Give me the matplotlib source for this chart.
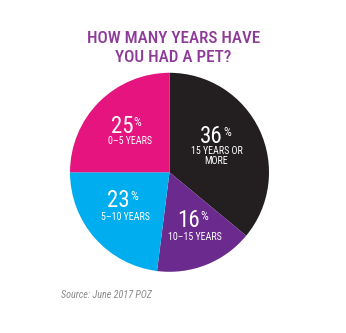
import matplotlib
matplotlib.use("Agg")
import matplotlib.pyplot as plt

labels = ["15 YEARS OR\nMORE", "10–15 YEARS", "5–10 YEARS", "0–5 YEARS"]
values = [36, 16, 23, 25]
colors = ["#231F20", "#6B2A8E", "#00AEEF", "#E5147F"]
title = "HOW MANY YEARS HAVE\nYOU HAD A PET?"
source = "Source: June 2017 POZ"

fam = ["Roboto Condensed", "DejaVu Sans"]

W, H = 346, 333
fig = plt.figure(figsize=(W / 100, H / 100), dpi=100)
ax = fig.add_axes([0, 0, 1, 1])

cx, cy, R = 169.5, H - 172.3, 99.5
ax.pie(values, colors=colors, startangle=90, counterclock=False,
       center=(cx, cy), radius=R, frame=True,
       wedgeprops=dict(linewidth=0))
ax.set_xlim(0, W)
ax.set_ylim(0, H)
ax.set_aspect("equal")
ax.axis("off")

# title, line by line (baselines in px from top)
for line, base in zip(title.split("\n"), [43.3, 61.5]):
    ax.text(W / 2 + 0.5, H - base, line, ha="center", va="baseline",
            fontsize=12.3, color="#8E3A98", family=fam, fontweight="medium")

# layout: (number right edge x, number baseline y, sublabel center x, sublabel baseline y)
layout = [(223, 143, 216.5, 154.5), (200, 227, 194.5, 240.5),
          (130, 207, 125.5, 219.5), (133, 133, 130.5, 143.5)]
for lab, v, (xr, yb, xs, ys) in zip(labels, values, layout):
    ax.text(xr, H - yb, f"{v}", ha="right", va="baseline", fontsize=16.5,
            color="white", family=fam)
    ax.text(xr + 0.5, H - (yb - 15.5 + 8), "%", ha="left", va="baseline",
            fontsize=9, color="white", family=fam)
    for i, sub in enumerate(lab.split("\n")):
        ax.text(xs, H - (ys + 10 * i), sub, ha="center", va="baseline",
                fontsize=7.2, color="white", family=fam)

ax.text(61, H - 297.5, source, ha="left", va="baseline", fontsize=7.3,
        color="#8A8A8A", style="italic", family=fam)

fig.savefig("out.png", dpi=100, facecolor="white")
